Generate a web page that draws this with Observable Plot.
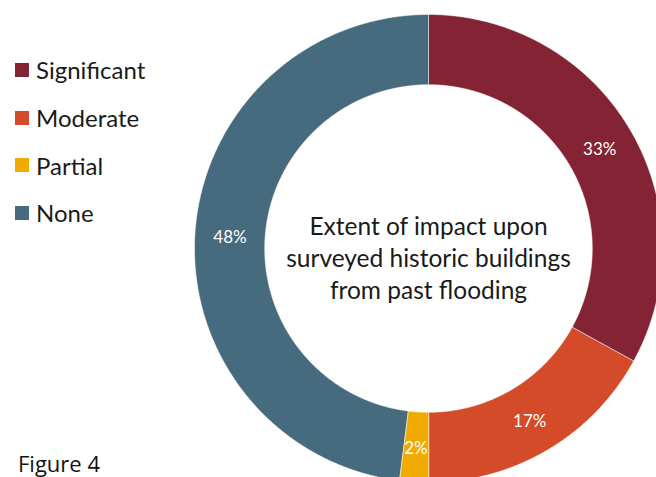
<!DOCTYPE html>
<html>
<head>
<meta charset="utf-8">
<script src="https://cdn.jsdelivr.net/npm/d3@7"></script>
<script src="https://cdn.jsdelivr.net/npm/@observablehq/plot@0.6"></script>
<style>
  html, body { margin: 0; padding: 0; background: #fff; }
  #wrap { position: relative; width: 656px; height: 477px; overflow: hidden; font-family: Lato, "Open Sans", sans-serif; }
  #wrap svg { position: absolute; left: 0; top: 0; }
  .legend { position: absolute; left: 15px; top: 46px; }
  .row { display: flex; align-items: center; height: 47.7px; font-size: 24px; color: #1a1a1a; }
  .sw { width: 14px; height: 14px; margin-right: 7px; flex: none; }
  .fig { position: absolute; left: 18px; top: 452px; font-size: 22px; line-height: 22px; color: #111; font-family: "Open Sans", Lato, sans-serif; }
</style>
</head>
<body>
<div id="wrap"></div>
<script>
const categories = ["Significant", "Moderate", "Partial", "None"];
const values = [33, 17, 2, 48];
const labels = ["33%", "17%", "2%", "48%"];
const colors = ["#832333", "#d34b29", "#f0aa00", "#466a7e"];
const centerTitle = ["Extent of impact upon", "surveyed historic buildings", "from past flooding"];
const figureLabel = "Figure 4";

const innerR = 0.70;
const outerR = 1.0;

const pie = d3.pie().sort(null).value(d => d.value);
const arcs = pie(categories.map((c, i) => ({category: c, value: values[i], label: labels[i]})));

// ring outline points per slice (angles clockwise from top)
const ring = [];
for (const a of arcs) {
  const n = Math.max(2, Math.ceil((a.endAngle - a.startAngle) / 0.005));
  const pts = [];
  for (let k = 0; k <= n; k++) {
    const t = a.startAngle + (a.endAngle - a.startAngle) * k / n;
    pts.push({category: a.data.category, x: outerR * Math.sin(t), y: outerR * Math.cos(t)});
  }
  for (let k = n; k >= 0; k--) {
    const t = a.startAngle + (a.endAngle - a.startAngle) * k / n;
    pts.push({category: a.data.category, x: innerR * Math.sin(t), y: innerR * Math.cos(t)});
  }
  ring.push(...pts);
}
const labelPts = arcs.map(a => {
  const m = (a.startAngle + a.endAngle) / 2;
  const r = (innerR + outerR) / 2;
  return {label: a.data.label, x: r * Math.sin(m), y: r * Math.cos(m)};
});

const px = 234; // pixels per unit radius
const cx = 428, cy = 248;
const W = 656, H = 477;

const chart = Plot.plot({
  width: W, height: H,
  margin: 0,
  x: {domain: [-cx / px, (W - cx) / px], range: [0, W], axis: null},
  y: {domain: [cy / px, -(H - cy) / px], range: [0, H], axis: null},
  color: {domain: categories, range: colors},
  marks: [
    Plot.line(ring, {x: "x", y: "y", z: "category", fill: "category", stroke: "white", strokeWidth: 0.5, curve: "linear-closed"}),
    Plot.text(labelPts, {x: "x", y: "y", text: "label", fill: "white", fontSize: 17, fontFamily: "Lato, sans-serif", dy: 2}),
    Plot.text([centerTitle.join("\n")], {x: 0, y: 0, text: d => d, fill: "#1a1a1a", fontSize: 24.5, lineHeight: 1.3, fontFamily: "Lato, sans-serif", dy: 8})
  ]
});

const wrap = document.getElementById("wrap");
wrap.appendChild(chart);

const legend = document.createElement("div");
legend.className = "legend";
categories.forEach((c, i) => {
  const row = document.createElement("div");
  row.className = "row";
  const sw = document.createElement("div");
  sw.className = "sw";
  sw.style.background = colors[i];
  const tx = document.createElement("span");
  tx.textContent = c;
  row.appendChild(sw);
  row.appendChild(tx);
  legend.appendChild(row);
});
wrap.appendChild(legend);

const fig = document.createElement("div");
fig.className = "fig";
fig.textContent = figureLabel;
wrap.appendChild(fig);
</script>
</body>
</html>
